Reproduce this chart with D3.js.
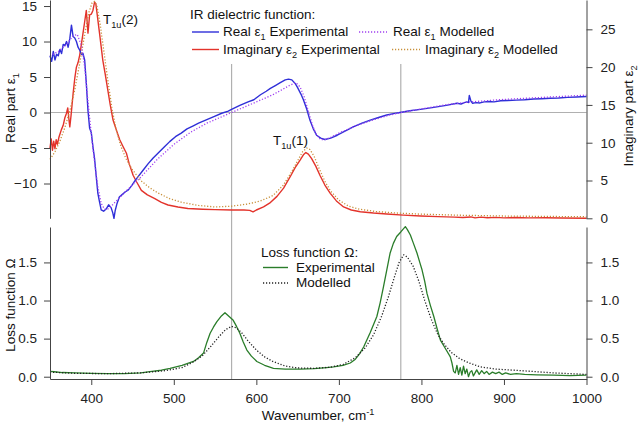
<!DOCTYPE html>
<html>
<head>
<meta charset="utf-8">
<script src="https://cdnjs.cloudflare.com/ajax/libs/d3/7.8.5/d3.min.js"></script>
<style>
  body { margin: 0; background: #fff; }
  svg { font-family: "Liberation Sans", Arial, sans-serif; }
  .axis path, .axis line { stroke: #444; }
  .axis text { fill: #222; font-size: 13.5px; }
</style>
</head>
<body>
<div id="chart"></div>
<script>
// wavenumber (cm-1), value pairs
var eps1Exp = [[350,8.0],[352,7.2],[354,8.6],[356,7.4],[358,8.2],[360,8.0],[362,8.9],[364,8.3],[366,9.6],[368,9.4],
  [370,10.0],[372,9.2],[374,10.4],[376,12.3],[378,10.7],[380,10.5],[382,10.0],[384,9.2],[386,8.8],[388,8.2],[390,8.3],
  [392,7.4],[394,4.1],[396,0.3],[398,-2.2],[400,-2.8],[402,-4.8],[404,-6.5],[406,-9.0],[408,-11.4],[410,-12.6],
  [412,-13.7],[415,-13.9],[418,-13.6],[421,-13.0],[424,-13.4],[426,-14.1],[427.5,-14.9],[429,-13.8],[431,-12.9],
  [434,-11.9],[437,-11.6],[441,-11.2],[445,-10.9],[449,-10.3],[453,-9.6],[457,-9.0],[463,-8.1],[469,-7.2],[475,-6.4],
  [482,-5.6],[489,-4.8],[495,-4.1],[502,-3.4],[509,-2.9],[516,-2.3],[523,-1.9],[530,-1.5],[540,-1.0],[550,-0.5],
  [558,-0.1],[566,0.2],[570,0.45],[580,1.0],[590,1.5],[597,1.8],[605,2.5],[612,3.0],[617,3.4],[623,3.8],[629,4.2],
  [635,4.6],[639,4.7],[643,4.6],[647,4.1],[650,3.5],[654,2.6],[657,1.8],[661,0.5],[665,-1.1],[669,-2.3],[673,-3.2],
  [678,-3.6],[683,-3.8],[690,-3.6],[698,-3.2],[708,-2.6],[718,-2.0],[728,-1.5],[738,-1.06],[748,-0.7],[758,-0.35],
  [766,-0.15],[774,0.0],[786,0.25],[799,0.45],[815,0.73],[830,1.0],[843,1.3],[848,1.2],[852,1.4],[855,1.5],[857,1.4],
  [858,2.4],[860,1.6],[862,1.3],[866,1.4],[871,1.35],[876,1.5],[882,1.55],[888,1.5],[896,1.66],[905,1.7],[915,1.75],
  [925,1.8],[936,1.9],[946,1.95],[956,2.0],[966,2.05],[977,2.14],[988,2.18],[1000,2.25]];

var eps1Mod = [[350,8.0],[360,8.6],[370,9.6],[378,10.8],[383,11.0],[388,9.5],[392,6.5],[396,1.5],[400,-3.0],[404,-7.0],
  [408,-10.5],[412,-12.8],[416,-13.6],[420,-13.6],[425,-13.1],[430,-12.5],[440,-11.3],[450,-10.2],[460,-9.1],
  [480,-6.6],[500,-4.5],[520,-2.8],[540,-1.5],[560,-0.5],[580,0.5],[600,1.5],[620,2.5],[640,3.8],[648,4.2],[653,3.6],
  [658,2.2],[663,0.2],[668,-1.8],[673,-3.2],[678,-3.8],[684,-3.8],[690,-3.5],[700,-2.9],[720,-1.9],[740,-1.1],
  [760,-0.4],[780,0.1],[800,0.5],[830,1.1],[860,1.5],[900,1.85],[950,2.15],[1000,2.45]];

var eps2Exp = [[350,9.3],[351.5,10.5],[353,9.0],[354.5,10.2],[356,9.2],[357.5,10.4],[359,9.8],[361,10.8],[363.7,11.7],
  [366,12.3],[368,13.3],[370,13.9],[371.5,14.6],[373,13.0],[374,12.1],[375.5,13.6],[378,16.5],[380,18.5],[382,20.0],
  [384,20.6],[386,21.6],[388,23.0],[390,24.5],[392,26.0],[394,27.5],[396,24.5],[398,26.9],[400,27.0],[402,27.5],
  [404,28.6],[405.5,28.4],[407,27.1],[410,24.5],[414,20.9],[417,19.0],[420,17.0],[423,15.0],[426.4,13.0],[430,11.8],
  [434.5,10.4],[438,9.6],[442.6,8.6],[446,7.2],[450.7,5.7],[455,4.8],[460.7,3.7],[468,3.1],[477,2.6],[485,2.1],
  [493,1.76],[505,1.5],[517,1.3],[535,1.2],[550,1.15],[570,1.1],[585,1.1],[592,1.05],[596,0.85],[600,1.1],
  [608.7,1.5],[616,2.0],[625,2.9],[633,4.0],[641,5.5],[647,6.7],[653,7.7],[657,8.4],[660,8.7],[663,8.5],[667,7.9],
  [672,6.9],[677,5.7],[683,4.4],[689.6,3.3],[697,2.3],[705.7,1.5],[715,1.1],[726,0.87],[742,0.7],[758,0.57],
  [778,0.42],[799,0.3],[820,0.22],[840,0.15],[850,0.1],[860,0.18],[865,0.05],[872,0.15],[880,0.08],[890,0.12],
  [900,0.06],[915,0.1],[930,0.05],[950,0.07],[970,0.04],[1000,0.0]];

var eps2Mod = [[350,7.8],[356,8.8],[362,10.2],[368,12.0],[374,14.2],[380,17.0],[386,20.5],[392,24.3],[397,27.2],
  [401,28.5],[404,28.7],[407,28.0],[411,25.5],[415,22.3],[420,18.3],[425,14.6],[430,11.8],[436,9.5],[442,7.9],
  [450,6.4],[460,5.0],[470,4.1],[480,3.4],[495,2.6],[510,2.1],[530,1.7],[550,1.5],[570,1.6],[590,1.9],[605,2.3],
  [620,3.0],[632,4.3],[642,6.0],[650,7.6],[656,8.8],[661,9.3],[665,9.1],[670,8.2],[676,6.6],[683,4.9],[690,3.6],
  [700,2.4],[712,1.6],[725,1.2],[745,0.9],[770,0.7],[800,0.55],[850,0.4],[900,0.3],[950,0.25],[1000,0.2]];

var lossExp = [[350,0.07],[355,0.065],[365,0.055],[380,0.05],[400,0.045],[420,0.04],[440,0.04],[460,0.05],[471,0.066],
  [485,0.085],[495.5,0.11],[510,0.15],[523.8,0.2],[530,0.25],[536,0.31],[540,0.45],[544,0.57],[548,0.65],[552,0.72],
  [557,0.79],[562,0.84],[567,0.79],[572,0.74],[576,0.66],[580,0.57],[584,0.46],[588.5,0.35],[594,0.27],[600.6,0.2],
  [610,0.15],[620.8,0.11],[635,0.1],[653,0.1],[670,0.105],[685,0.12],[693.5,0.13],[705,0.15],[713.8,0.18],[720,0.23],
  [725,0.3],[730,0.39],[738,0.58],[746,0.79],[750,0.97],[754,1.18],[758,1.4],[762,1.62],[766,1.75],[770,1.84],
  [775,1.9],[780.5,1.97],[783,1.93],[786.6,1.86],[790,1.76],[794.7,1.62],[798,1.5],[800.8,1.4],[804,1.25],
  [806.8,1.09],[811,0.93],[815,0.79],[819,0.63],[823,0.48],[829,0.37],[835,0.26],[837,0.18],[839,0.07],[841,0.05],
  [843,0.15],[845,0.03],[847,0.12],[849,0.02],[851,0.14],[853,0.04],[855,0.1],[857,0.0],[859,0.06],[861,0.08],
  [863,0.01],[865,0.05],[867,0.09],[870,0.03],[873,0.08],[876,0.04],[879,0.07],[882,0.03],[886,0.06],[890,0.04],
  [894,0.06],[898,0.03],[902,0.05],[908,0.03],[915,0.04],[925,0.03],[940,0.025],[960,0.02],[980,0.015],[1000,0.02]];

var lossMod = [[350,0.06],[380,0.045],[420,0.04],[460,0.05],[490,0.08],[510,0.12],[525,0.2],[535,0.28],[545,0.4],
  [555,0.53],[563,0.62],[570,0.66],[576,0.64],[582,0.58],[590,0.47],[600,0.35],[610,0.26],[620,0.2],[635,0.14],
  [650,0.115],[670,0.11],[690,0.125],[705,0.16],[720,0.25],[732,0.38],[742,0.55],[752,0.8],[760,1.05],[767,1.3],
  [773,1.5],[778.5,1.6],[783,1.57],[790,1.45],[797,1.25],[804,1.0],[812,0.75],[820,0.55],[828,0.42],[836,0.32],
  [846,0.24],[858,0.18],[871,0.13],[890,0.1],[920,0.08],[960,0.05],[1000,0.03]];

var refLines = [570, 775];
var xTicks = [400, 500, 600, 700, 800, 900, 1000];
var eps1Ticks = [-10, -5, 0, 5, 10, 15];
var eps2Ticks = [0, 5, 10, 15, 20, 25];
var lossTicks = [0, 0.5, 1.0, 1.5];

var width = 640, height = 424;
var left = 50, right = 586.5;
var topY0 = 0, topY1 = 218.3;      // upper panel
var botY0 = 227, botY1 = 379;      // lower panel

var svg = d3.select("#chart").append("svg")
    .attr("width", width)
    .attr("height", height);

var x = d3.scaleLinear().domain([350, 1000]).range([left, right]);
var yE1 = d3.scaleLinear().domain([-14.9, 15.85]).range([topY1, topY0]);
var yE2 = d3.scaleLinear().domain([0, 28.88]).range([topY1, topY0]);
var yL = d3.scaleLinear().domain([-0.03, 1.965]).range([botY1, botY0]);

var grey = "#b0b0b0";

// reference lines
svg.append("line")
    .attr("x1", left).attr("x2", right)
    .attr("y1", yE1(0)).attr("y2", yE1(0))
    .attr("stroke", grey).attr("stroke-width", 1.2);

svg.selectAll(".ref").data(refLines).enter().append("line")
    .attr("class", "ref")
    .attr("x1", function(d) { return x(d); })
    .attr("x2", function(d) { return x(d); })
    .attr("y1", 64).attr("y2", botY1)
    .attr("stroke", grey).attr("stroke-width", 1.2);

function drawLine(data, yScale, color, dotted, w) {
  var line = d3.line()
      .x(function(d) { return x(d[0]); })
      .y(function(d) { return yScale(d[1]); });
  svg.append("path")
      .datum(data)
      .attr("fill", "none")
      .attr("stroke", color)
      .attr("stroke-width", w)
      .attr("stroke-linejoin", "round")
      .attr("stroke-dasharray", dotted ? "1.2,1.8" : null)
      .attr("d", line);
}

var blue = "#2f2fd8", purple = "#a040f0", red = "#e3332b", orange = "#c8903a", green = "#2a7d2a";

drawLine(eps2Exp, yE2, red, false, 1.4);
drawLine(eps1Exp, yE1, blue, false, 1.4);
drawLine(eps2Mod, yE2, orange, true, 1.3);
drawLine(eps1Mod, yE1, purple, true, 1.3);
drawLine(lossExp, yL, green, false, 1.3);
drawLine(lossMod, yL, "#222", true, 1.3);

// axes
svg.append("g").attr("class", "axis")
    .attr("transform", "translate(" + left + ",0)")
    .call(d3.axisLeft(yE1).tickValues(eps1Ticks).tickSize(6).tickPadding(7).tickSizeOuter(0));
svg.append("g").attr("class", "axis")
    .attr("transform", "translate(" + right + ",0)")
    .call(d3.axisRight(yE2).tickValues(eps2Ticks).tickSize(6).tickPadding(8).tickSizeOuter(0));
svg.append("g").attr("class", "axis")
    .attr("transform", "translate(" + left + ",0)")
    .call(d3.axisLeft(yL).tickValues(lossTicks).tickFormat(d3.format(".1f")).tickSize(6).tickPadding(7).tickSizeOuter(0));
svg.append("g").attr("class", "axis")
    .attr("transform", "translate(" + right + ",0)")
    .call(d3.axisRight(yL).tickValues(lossTicks).tickFormat(d3.format(".1f")).tickSize(6).tickPadding(8).tickSizeOuter(0));
svg.append("g").attr("class", "axis")
    .attr("transform", "translate(0," + botY1 + ")")
    .call(d3.axisBottom(x).tickValues(xTicks).tickFormat(d3.format("d")).tickSize(6).tickPadding(8).tickSizeOuter(0));

// text with sub/superscripts: parts = [[text, "sub"|"sup"|null], ...]
function richText(g, parts, size) {
  var t = g.append("text").attr("font-size", size).attr("fill", "#111");
  var shift = 0;
  parts.forEach(function(p) {
    var s = t.append("tspan").text(p[0]);
    var want = p[1] == "sub" ? 4 : p[1] == "sup" ? -5 : 0;
    if (want != shift) s.attr("dy", want - shift);
    shift = want;
    if (p[1]) s.attr("font-size", size * 0.68);
  });
  return t;
}

var fs = 13.5;

richText(svg.append("g").attr("transform", "translate(15,108) rotate(-90)"),
  [["Real part ε", null], ["1", "sub"]], fs).attr("text-anchor", "middle");
richText(svg.append("g").attr("transform", "translate(633,116) rotate(-90)"),
  [["Imaginary part ε", null], ["2", "sub"]], fs).attr("text-anchor", "middle");
richText(svg.append("g").attr("transform", "translate(15,305) rotate(-90)"),
  [["Loss function Ω", null]], fs).attr("text-anchor", "middle");
richText(svg.append("g").attr("transform", "translate(318,420)"),
  [["Wavenumber, cm", null], ["-1", "sup"]], fs).attr("text-anchor", "middle");

// peak labels
richText(svg.append("g").attr("transform", "translate(103,23.5)"),
  [["T", null], ["1u", "sub"], ["(2)", null]], fs);
richText(svg.append("g").attr("transform", "translate(273,145)"),
  [["T", null], ["1u", "sub"], ["(1)", null]], fs);

// legends
function sample(x1, x2, y, color, dotted) {
  svg.append("line")
      .attr("x1", x1).attr("x2", x2).attr("y1", y).attr("y2", y)
      .attr("stroke", color).attr("stroke-width", dotted ? 1.3 : 1.4)
      .attr("stroke-dasharray", dotted ? "1.2,1.8" : null);
}

richText(svg.append("g").attr("transform", "translate(190,18.5)"), [["IR dielectric function:", null]], fs);
sample(192, 219, 32, blue, false);
richText(svg.append("g").attr("transform", "translate(223,36)"), [["Real ε", null], ["1", "sub"], [" Experimental", null]], fs);
sample(359, 387, 32, purple, true);
richText(svg.append("g").attr("transform", "translate(393,36)"), [["Real ε", null], ["1", "sub"], [" Modelled", null]], fs);
sample(192, 219, 49.5, red, false);
richText(svg.append("g").attr("transform", "translate(223,53.5)"), [["Imaginary ε", null], ["2", "sub"], [" Experimental", null]], fs);
sample(392, 420, 49.5, orange, true);
richText(svg.append("g").attr("transform", "translate(425,53.5)"), [["Imaginary ε", null], ["2", "sub"], [" Modelled", null]], fs);

richText(svg.append("g").attr("transform", "translate(261,256.5)"), [["Loss function Ω:", null]], fs);
sample(263, 288, 267.5, green, false);
richText(svg.append("g").attr("transform", "translate(296,271.5)"), [["Experimental", null]], fs);
sample(263, 288, 283, "#222", true);
richText(svg.append("g").attr("transform", "translate(296,287)"), [["Modelled", null]], fs);
</script>
</body>
</html>
